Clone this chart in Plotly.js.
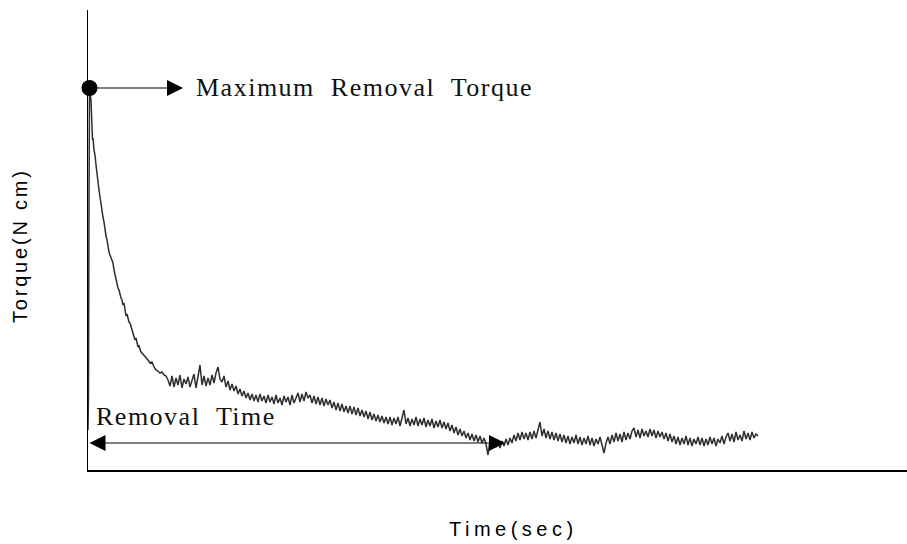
<!DOCTYPE html>
<html>
<head>
<meta charset="utf-8">
<script src="https://cdn.plot.ly/plotly-3.0.1.min.js"></script>
<style>
html,body{margin:0;padding:0;background:#fff;}
#chart{width:907px;height:544px;}
</style>
</head>
<body>
<div id="chart"></div>
<script>
// Time (sec) and Torque (N cm) (arbitrary units, no tick labels)
const time = [0,0.5,1,1.5,2,3,3.5,4,4.5,5,6,7,8,9,10,11,12,13,14,15,16,17,18,19,20,21,22,23,24,25,26,27,28,29,30,31,32,33,34,35,36,37,38,39,40,41,42,43,44,45,46,47,48,49,50,51,52,53,54,56,58,60,62,64,66,68,70,72,74,76,78,
80,82,84,86,88,90,92,94,96,98,
100,102,104,106,108,110,112,114,116,118,
120,122,124,126,128,130,132,134,136,138,
140,142,144,146,148,150,152,154,156,158,
160,162,164,166,168,170,172,174,176,178,
180,182,184,186,188,190,192,194,196,198,
200,202,204,206,208,210,212,214,216,218,
220,222,224,226,228,230,232,234,236,238,
240,242,244,246,248,250,252,254,256,258,
260,262,264,266,268,270,272,274,276,278,
280,282,284,286,288,290,292,294,296,298,
300,302,304,306,308,310,312,314,316,318,
320,322,324,326,328,330,332,334,336,338,
340,342,344,346,348,350,352,354,356,358,
360,362,364,366,368,370,372,374,376,378,
380,382,384,386,388,390,392,394,396,398,
400,402,404,406,408,410,412,414,416,418,
420,422,424,426,428,430,432,434,436,438,
440,442,444,446,448,450,452,454,456,458,
460,462,464,466,468,470,472,474,476,478,
480,482,484,486,488,490,492,494,496,498,
500,502,504,506,508,510,512,514,516,518,
520,522,524,526,528,530,532,534,536,538,
540,542,544,546,548,550,552,554,556,558,
560,562,564,566,568,570,572,574,576,578,
580,582,584,586,588,590,592,594,596,598,
600,602,604,606,608,610,612,614,616,618,
620,622,624,626,628,630,632,634,636,638,
640,642,644,646,648,650,652,654,656,658,
660,662,664,666,668,670];
const torque = [40,75,270,382,378,370,355,345,330,332,
320,315,305,295,287,280,273,265,258,253,248,238,234,230,222,218,215,212,208,207,200,195,192,187,182,180,175,172,170,165,167,157,154,156,150,148,147,144,
140,137,134,130,132,127,123,124,120,118,
117,115,113,110,107,108,103,100,99,97,98,95,94,
90,84,94,83,92,85,95,82,91,86,
93,83,90,96,82,92,105,85,94,84,
92,85,95,87,97,103,91,88,94,83,
89,80,86,79,84,76,81,74,79,72,
77,70,76,69,75,68,76,69,74,67,
75,68,73,66,75,67,72,65,74,68,
73,65,75,67,72,77,68,76,69,78,
72,75,67,74,66,73,65,72,64,71,
65,70,62,68,60,67,59,66,58,64,
57,64,56,63,55,62,54,60,53,59,
51,58,50,56,49,55,48,54,47,53,
46,53,45,52,46,53,44,51,60,46,
52,44,51,45,53,44,51,45,52,43,
50,44,51,42,49,43,50,42,48,41,
47,39,45,37,43,35,41,34,39,32,
37,30,36,29,35,28,34,27,32,26,
15,30,24,31,23,30,22,29,24,31,
25,32,27,35,29,37,30,38,31,37,
30,38,31,39,32,40,48,34,41,32,
39,31,38,30,37,29,36,28,35,27,
34,26,33,27,35,26,33,25,32,26,
34,25,32,24,31,26,33,25,17,27,
33,26,35,28,37,29,36,28,38,30,
37,31,39,42,33,40,32,41,34,39,
33,41,34,40,32,39,33,38,31,37,
29,36,28,34,26,33,25,32,26,34,
25,32,24,31,26,33,25,32,24,31,
25,33,26,32,24,31,27,34,26,33,
37,29,36,28,38,30,35,29,39,31,
37,30,38,32,36,34];

const timeMax = 819;
const torqueMax = 460;
const removalTimeEnd = 417;   // end of the removal-time arrow
const removalArrowLevel = 27; // height of the removal-time arrow
const maxArrowEnd = 95;       // tip of the maximum-torque arrow
const labelMax = {text: 'Maximum  Removal  Torque', x: 106, y: 383};
const labelRemoval = {text: 'Removal  Time', x: 6, y: 54};
const xTitle = 'Time(sec)';
const yTitle = 'Torque(N cm)';

let iPeak = 0;
for (let i = 1; i < torque.length; i++) if (torque[i] > torque[iPeak]) iPeak = i;
const peakT = time[iPeak], peakQ = torque[iPeak];

const serif = {family: 'Liberation Serif, Times New Roman, serif', size: 26, color: '#111'};
const sans = {family: 'Liberation Sans, Arial, sans-serif', size: 20, color: '#000'};
const spaced = (t, px) => '<span style="letter-spacing:' + px + 'px">' + t + '</span>';

const data = [
  {x: time, y: torque, type: 'scatter', mode: 'lines',
   line: {color: '#2e2e2e', width: 1.5}, hoverinfo: 'skip'},
  {x: [peakT], y: [peakQ], type: 'scatter', mode: 'markers',
   marker: {color: '#000', size: 16}, hoverinfo: 'skip', cliponaxis: false}
];

const layout = {
  width: 907, height: 544,
  margin: {l: 88, r: 0, t: 10, b: 74},
  paper_bgcolor: '#fff', plot_bgcolor: '#fff',
  showlegend: false,
  xaxis: {range: [0, timeMax], showline: true, linecolor: '#000', linewidth: 1.5,
          showgrid: false, zeroline: false, showticklabels: false, ticks: ''},
  yaxis: {range: [0, torqueMax], showline: true, linecolor: '#000', linewidth: 1.5,
          showgrid: false, zeroline: false, showticklabels: false, ticks: ''},
  annotations: [
    {x: maxArrowEnd, y: peakQ, ax: peakT, ay: peakQ, axref: 'x', ayref: 'y',
     xref: 'x', yref: 'y', text: '', showarrow: true,
     arrowhead: 2, arrowsize: 3.2, arrowwidth: 1, arrowcolor: '#000'},
    {x: removalTimeEnd, y: removalArrowLevel, ax: 0, ay: removalArrowLevel, axref: 'x', ayref: 'y',
     xref: 'x', yref: 'y', text: '', showarrow: true, arrowside: 'end+start',
     arrowhead: 2, startarrowhead: 2, arrowsize: 3.2, startarrowsize: 3.2,
     arrowwidth: 1, arrowcolor: '#000'},
    {x: labelMax.x, y: labelMax.y, xref: 'x', yref: 'y', text: spaced(labelMax.text, 1.5),
     showarrow: false, xanchor: 'left', yanchor: 'middle', font: serif},
    {x: labelRemoval.x, y: labelRemoval.y, xref: 'x', yref: 'y', text: spaced(labelRemoval.text, 1.5),
     showarrow: false, xanchor: 'left', yanchor: 'middle', font: serif},
    {x: 0.52, y: -0.128, xref: 'paper', yref: 'paper', text: spaced(xTitle, 4.5),
     showarrow: false, xanchor: 'center', yanchor: 'middle', font: sans},
    {x: -0.083, y: 0.487, xref: 'paper', yref: 'paper', text: spaced(yTitle, 2.8),
     showarrow: false, xanchor: 'center', yanchor: 'middle', textangle: -90, font: sans}
  ]
};

Plotly.newPlot('chart', data, layout, {displayModeBar: false, staticPlot: true});
</script>
</body>
</html>
